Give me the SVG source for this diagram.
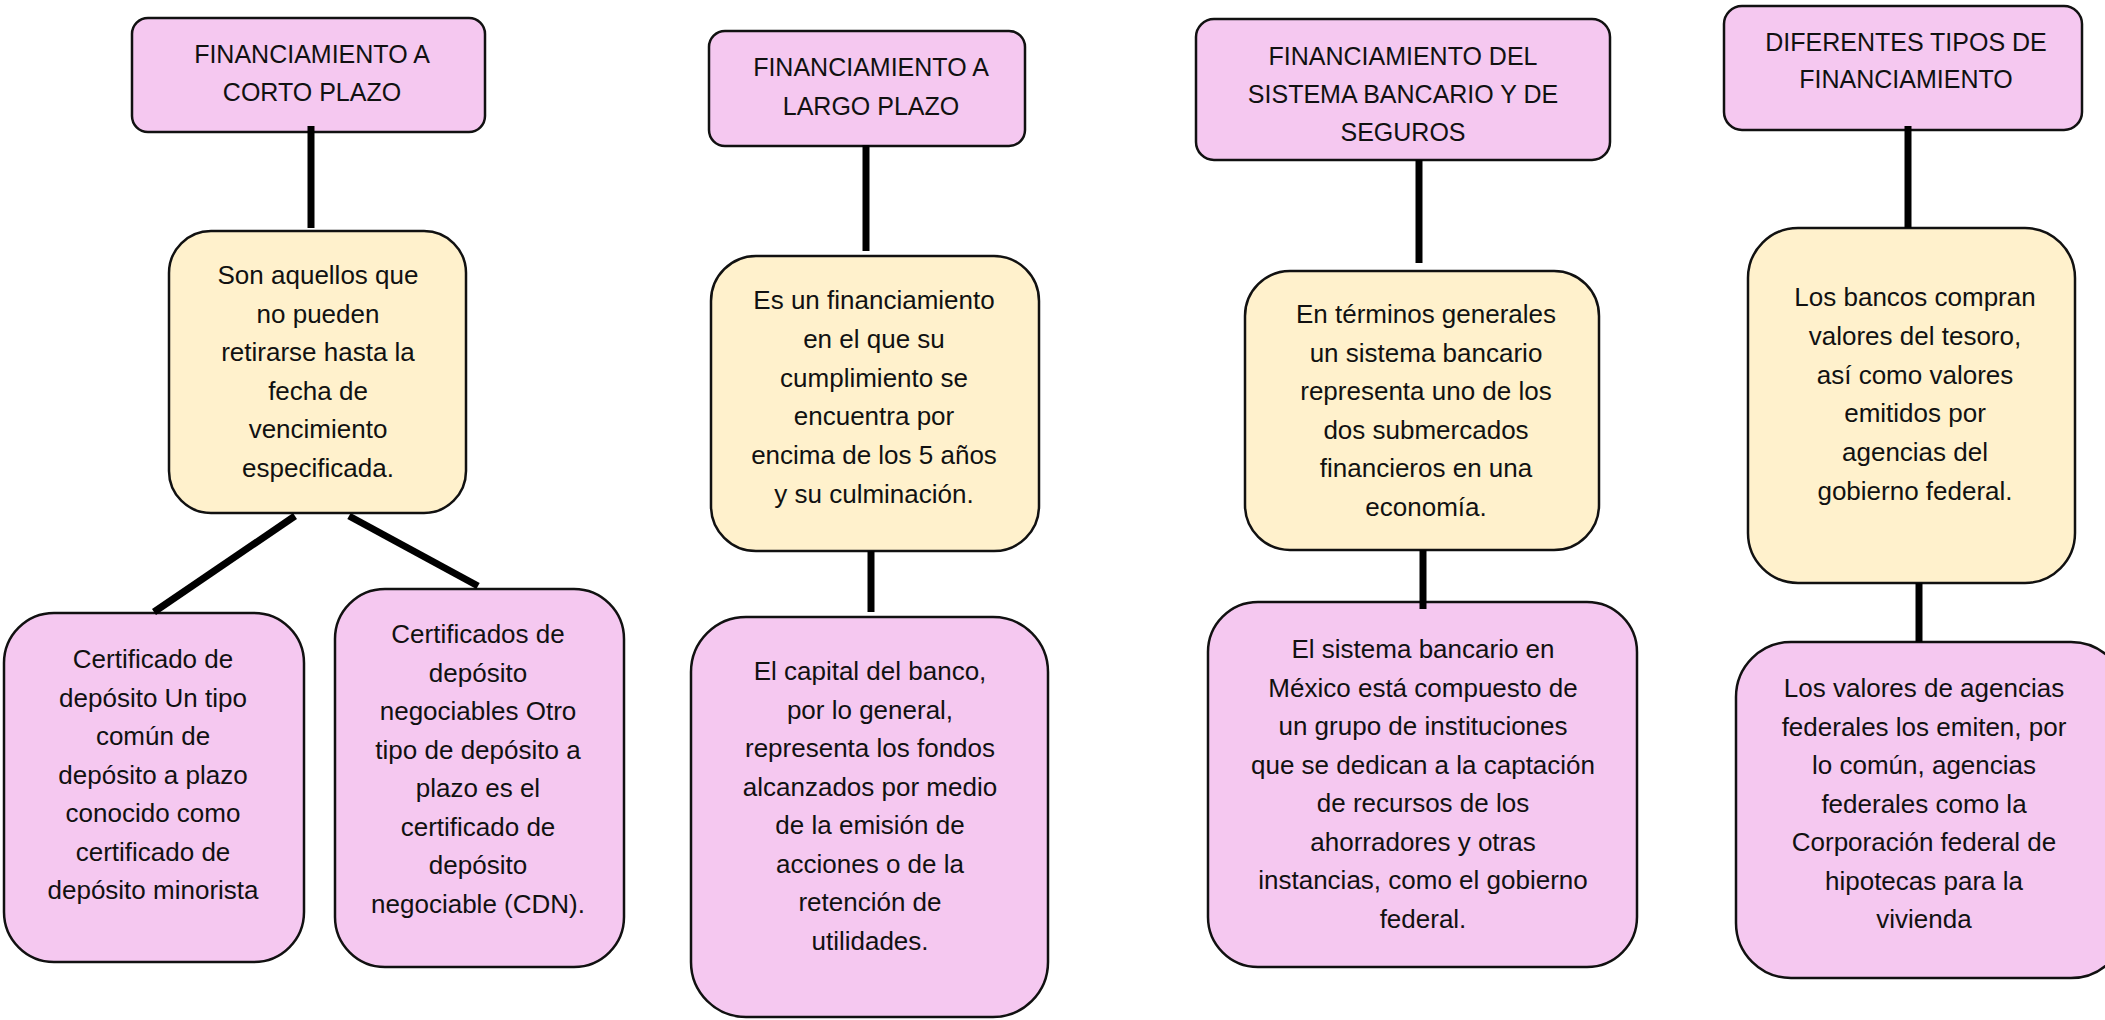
<svg xmlns="http://www.w3.org/2000/svg" width="2105" height="1020" viewBox="0 0 2105 1020">
<style>
.pink{fill:#F5C8F0;stroke:#111;stroke-width:2.5}
.yel{fill:#FFF1CC;stroke:#111;stroke-width:2.5}
.t{font-family:"Liberation Sans",Arial,sans-serif;font-size:26px;fill:#111;text-anchor:middle}
.h{font-family:"Liberation Sans",Arial,sans-serif;font-size:25px;fill:#111;text-anchor:middle}
.c{stroke:#000;stroke-width:7;fill:none}
</style>
<rect width="2105" height="1020" fill="#fff"/>
<g id="title1"><rect class="pink" x="132" y="18" width="353" height="114" rx="16"/>
<text class="h" x="312"><tspan x="312" y="63">FINANCIAMIENTO A</tspan><tspan x="312" y="101">CORTO PLAZO</tspan></text></g>
<g id="def1"><rect class="yel" x="169" y="231" width="297" height="282" rx="42"/>
<text class="t"><tspan x="318" y="284">Son aquellos que</tspan><tspan x="318" y="322.5">no pueden</tspan><tspan x="318" y="361">retirarse hasta la</tspan><tspan x="318" y="399.5">fecha de</tspan><tspan x="318" y="438">vencimiento</tspan><tspan x="318" y="476.5">especificada.</tspan></text></g>
<g id="cert1"><rect class="pink" x="4" y="613" width="300" height="349" rx="50"/>
<text class="t"><tspan x="153" y="668">Certificado de</tspan><tspan x="153" y="706.5">depósito Un tipo</tspan><tspan x="153" y="745">común de</tspan><tspan x="153" y="783.5">depósito a plazo</tspan><tspan x="153" y="822">conocido como</tspan><tspan x="153" y="860.5">certificado de</tspan><tspan x="153" y="899">depósito minorista</tspan></text></g>
<g id="cert2"><rect class="pink" x="335" y="589" width="289" height="378" rx="50"/>
<text class="t"><tspan x="478" y="643">Certificados de</tspan><tspan x="478" y="681.5">depósito</tspan><tspan x="478" y="720">negociables Otro</tspan><tspan x="478" y="758.5">tipo de depósito a</tspan><tspan x="478" y="797">plazo es el</tspan><tspan x="478" y="835.5">certificado de</tspan><tspan x="478" y="874">depósito</tspan><tspan x="478" y="912.5">negociable (CDN).</tspan></text></g>

<g id="title2"><rect class="pink" x="709" y="31" width="316" height="115" rx="16"/>
<text class="h"><tspan x="871" y="76">FINANCIAMIENTO A</tspan><tspan x="871" y="114.5">LARGO PLAZO</tspan></text></g>
<g id="def2"><rect class="yel" x="711" y="256" width="328" height="295" rx="45"/>
<text class="t"><tspan x="874" y="309">Es un financiamiento</tspan><tspan x="874" y="347.5">en el que su</tspan><tspan x="874" y="386.5">cumplimiento se</tspan><tspan x="874" y="425">encuentra por</tspan><tspan x="874" y="464">encima de los 5 años</tspan><tspan x="874" y="503">y su culminación.</tspan></text></g>
<g id="capital"><rect class="pink" x="691" y="617" width="357" height="400" rx="55"/>
<text class="t"><tspan x="870" y="680">El capital del banco,</tspan><tspan x="870" y="718.5">por lo general,</tspan><tspan x="870" y="757">representa los fondos</tspan><tspan x="870" y="795.5">alcanzados por medio</tspan><tspan x="870" y="834">de la emisión de</tspan><tspan x="870" y="872.5">acciones o de la</tspan><tspan x="870" y="911">retención de</tspan><tspan x="870" y="949.5">utilidades.</tspan></text></g>

<g id="title3"><rect class="pink" x="1196" y="19" width="414" height="141" rx="18"/>
<text class="h"><tspan x="1403" y="65">FINANCIAMIENTO DEL</tspan><tspan x="1403" y="103">SISTEMA BANCARIO Y DE</tspan><tspan x="1403" y="141">SEGUROS</tspan></text></g>
<g id="def3"><rect class="yel" x="1245" y="271" width="354" height="279" rx="45"/>
<text class="t"><tspan x="1426" y="323">En términos generales</tspan><tspan x="1426" y="361.5">un sistema bancario</tspan><tspan x="1426" y="400">representa uno de los</tspan><tspan x="1426" y="438.5">dos submercados</tspan><tspan x="1426" y="477">financieros en una</tspan><tspan x="1426" y="515.5">economía.</tspan></text></g>
<g id="mexico"><rect class="pink" x="1208" y="602" width="429" height="365" rx="50"/>
<text class="t"><tspan x="1423" y="658">El sistema bancario en</tspan><tspan x="1423" y="696.5">México está compuesto de</tspan><tspan x="1423" y="735">un grupo de instituciones</tspan><tspan x="1423" y="773.5">que se dedican a la captación</tspan><tspan x="1423" y="812">de recursos de los</tspan><tspan x="1423" y="850.5">ahorradores y otras</tspan><tspan x="1423" y="889">instancias, como el gobierno</tspan><tspan x="1423" y="927.5">federal.</tspan></text></g>

<g id="title4"><rect class="pink" x="1724" y="6" width="358" height="124" rx="18"/>
<text class="h"><tspan x="1906" y="51">DIFERENTES TIPOS DE</tspan><tspan x="1906" y="88">FINANCIAMIENTO</tspan></text></g>
<g id="def4"><rect class="yel" x="1748" y="228" width="327" height="355" rx="50"/>
<text class="t"><tspan x="1915" y="306">Los bancos compran</tspan><tspan x="1915" y="345">valores del tesoro,</tspan><tspan x="1915" y="384">así como valores</tspan><tspan x="1915" y="422">emitidos por</tspan><tspan x="1915" y="461">agencias del</tspan><tspan x="1915" y="500">gobierno federal.</tspan></text></g>
<g id="agencias"><rect class="pink" x="1736" y="642" width="390" height="336" rx="55"/>
<text class="t"><tspan x="1924" y="697">Los valores de agencias</tspan><tspan x="1924" y="735.5">federales los emiten, por</tspan><tspan x="1924" y="774">lo común, agencias</tspan><tspan x="1924" y="812.5">federales como la</tspan><tspan x="1924" y="851">Corporación federal de</tspan><tspan x="1924" y="889.5">hipotecas para la</tspan><tspan x="1924" y="928">vivienda</tspan></text></g>

<g id="connectors">
<line class="c" x1="311" y1="126" x2="311" y2="228"/>
<line class="c" x1="295" y1="516" x2="154" y2="612"/>
<line class="c" x1="349" y1="516" x2="478" y2="586"/>
<line class="c" x1="866" y1="145" x2="866" y2="251"/>
<line class="c" x1="871" y1="551" x2="871" y2="612"/>
<line class="c" x1="1419" y1="160" x2="1419" y2="263"/>
<line class="c" x1="1423" y1="550" x2="1423" y2="609"/>
<line class="c" x1="1908" y1="126" x2="1908" y2="228"/>
<line class="c" x1="1919" y1="583" x2="1919" y2="642"/>
</g>
</svg>
